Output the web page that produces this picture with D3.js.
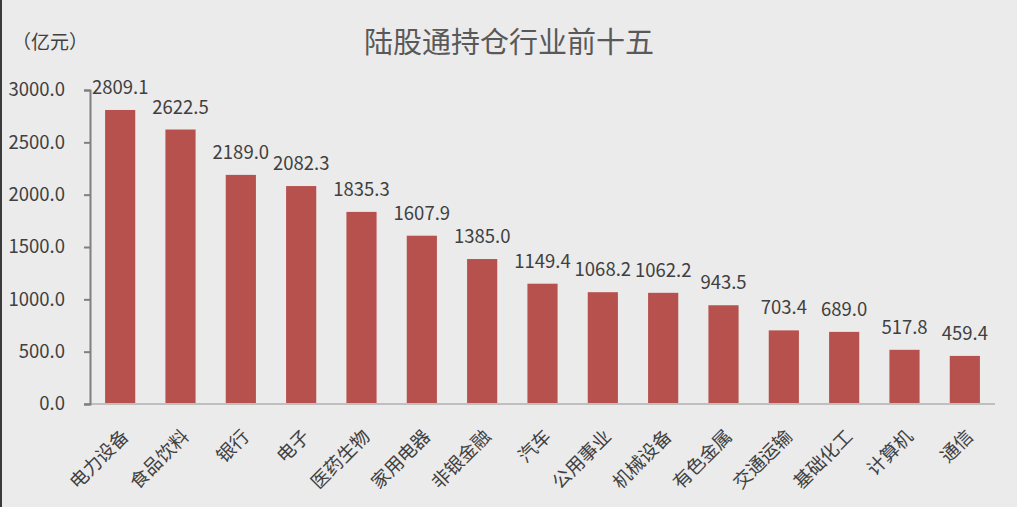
<!DOCTYPE html>
<html>
<head>
<meta charset="utf-8">
<script src="https://cdn.jsdelivr.net/npm/d3@7"></script>
<style>
  body { margin: 0; background: #ebebeb; }
  #main { width: 1017px; height: 507px; }
  text { font-family: "Noto Sans CJK SC", "Microsoft YaHei", sans-serif; }
</style>
</head>
<body>
<div id="main"></div>
<script>
const categories = ['电力设备', '食品饮料', '银行', '电子', '医药生物', '家用电器', '非银金融',
  '汽车', '公用事业', '机械设备', '有色金属', '交通运输', '基础化工', '计算机', '通信'];
const values = [2809.1, 2622.5, 2189.0, 2082.3, 1835.3, 1607.9, 1385.0,
  1149.4, 1068.2, 1062.2, 943.5, 703.4, 689.0, 517.8, 459.4];
const yTicks = [0, 500, 1000, 1500, 2000, 2500, 3000];

const width = 1017;
const height = 507;
const margin = { top: 90, bottom: 103, left: 90, right: 22 };

const svg = d3.select('#main')
  .append('svg')
  .attr('width', width)
  .attr('height', height);

svg.append('rect')
  .attr('width', width).attr('height', height)
  .attr('fill', '#ebebeb');

// dark left edge like the screenshot
svg.append('rect')
  .attr('x', 0).attr('y', 0).attr('width', 2).attr('height', height)
  .attr('fill', '#3a3a3a');

const x = d3.scaleBand()
  .domain(categories)
  .range([margin.left, width - margin.right])
  .paddingInner(0.5)
  .paddingOuter(0.25);

const y = d3.scaleLinear()
  .domain([0, 3000])
  .range([height - margin.bottom, margin.top]);

svg.append('text')
  .attr('x', 509).attr('y', 53)
  .attr('text-anchor', 'middle')
  .attr('font-size', '29px')
  .attr('fill', '#595959')
  .text('陆股通持仓行业前十五');

svg.append('text')
  .attr('x', 12).attr('y', 49)
  .attr('font-size', '19px')
  .attr('fill', '#404040')
  .text('（亿元）');

svg.append('g')
  .attr('fill', '#b7514e')
  .selectAll('rect')
  .data(values)
  .join('rect')
    .attr('x', (d, i) => x(categories[i]))
    .attr('y', d => y(d))
    .attr('width', x.bandwidth())
    .attr('height', d => y(0) - y(d));

svg.append('g')
  .selectAll('text')
  .data(values)
  .join('text')
    .attr('x', (d, i) => x(categories[i]) + x.bandwidth() / 2)
    .attr('y', d => y(d) - 16)
    .attr('text-anchor', 'middle')
    .attr('font-size', '18.5px')
    .attr('fill', '#404040')
    .text(d => d.toFixed(1));

// x axis
const xAxis = svg.append('g')
  .attr('transform', `translate(0,${y(0)})`);
xAxis.append('line')
  .attr('x1', margin.left - 6).attr('x2', width - margin.right)
  .attr('stroke', '#bfbfbf').attr('stroke-width', 2);
xAxis.selectAll('text')
  .data(categories)
  .join('text')
    .attr('transform', d => `translate(${x(d) + x.bandwidth() / 2 + 5},29) rotate(-45)`)
    .attr('text-anchor', 'end')
    .attr('dy', '0.35em')
    .attr('font-size', '18.5px')
    .attr('fill', '#404040')
    .text(d => d);

// y axis
const yAxis = svg.append('g')
  .attr('transform', `translate(${margin.left},0)`)
  .call(d3.axisLeft(y).tickValues(yTicks).tickFormat(d3.format('.1f')).tickSize(6).tickPadding(19));
yAxis.select('.domain').attr('stroke', '#7f7f7f').attr('stroke-width', 2);
yAxis.selectAll('.tick line').attr('stroke', '#7f7f7f').attr('stroke-width', 2);
yAxis.selectAll('.tick text')
  .attr('font-size', '18.5px')
  .attr('fill', '#404040')
  .style('font-family', '"Noto Sans CJK SC", sans-serif');
</script>
</body>
</html>
